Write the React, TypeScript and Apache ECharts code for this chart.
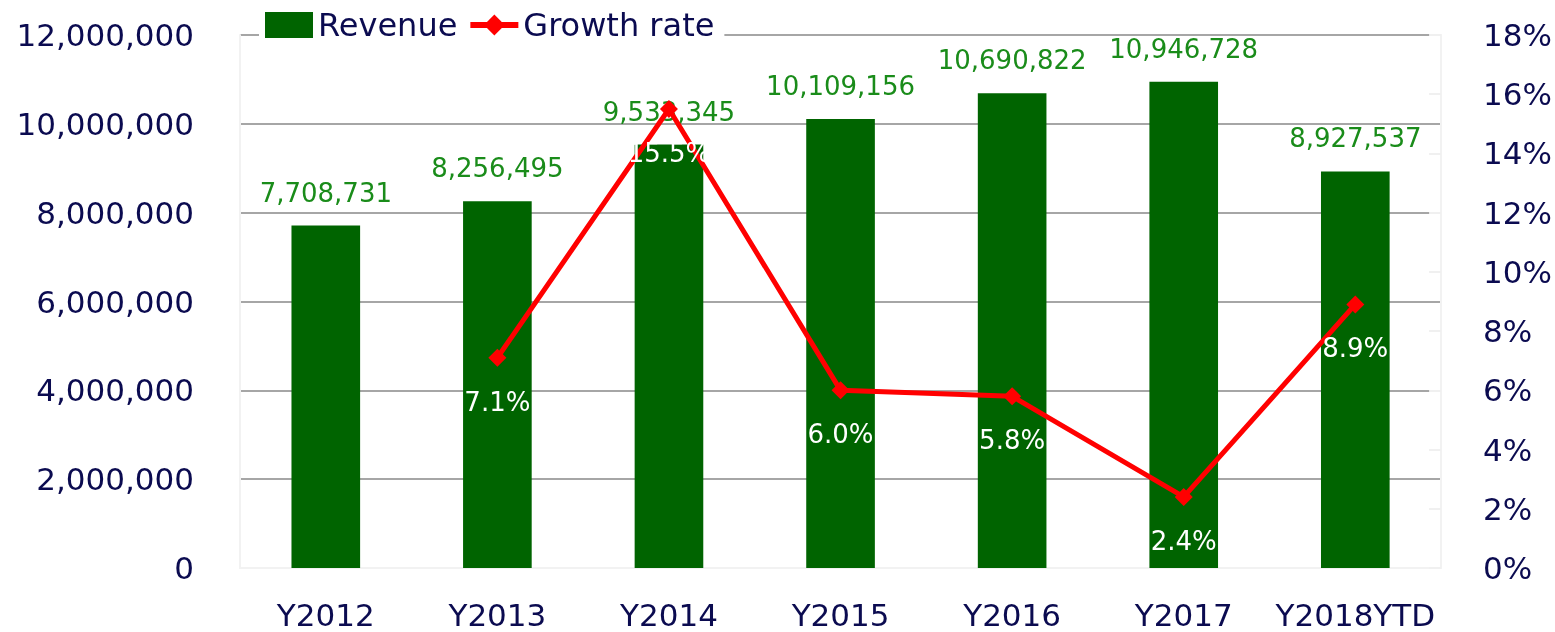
import React, { useEffect, useRef } from "react";
import * as echarts from "echarts";

const categories = ["Y2012", "Y2013", "Y2014", "Y2015", "Y2016", "Y2017", "Y2018YTD"];
const revenue = [7708731, 8256495, 9533345, 10109156, 10690822, 10946728, 8927537];
const growth: (number | null)[] = [null, 7.1, 15.5, 6.0, 5.8, 2.4, 8.9];

const FONT = "DejaVu Sans";
const NAVY = "#0b0b50";

export default function App() {
  const ref = useRef<HTMLDivElement>(null);
  useEffect(() => {
    if (!ref.current) return;
    const chart = echarts.init(ref.current, null, { renderer: "svg" });
    chart.setOption({
      animation: false,
      textStyle: { fontFamily: FONT },
      legend: {
        left: 259,
        top: 5,
        itemWidth: 48,
        itemHeight: 26,
        itemGap: 10,
        backgroundColor: "#ffffff",
        padding: [4, 10, 4, 6],
        textStyle: { fontFamily: FONT, fontSize: 32, color: NAVY, padding: [0, 0, 0, 0] },
        data: [
          { name: "Revenue", icon: "rect" },
          { name: "Growth rate", lineStyle: { width: 6, color: "#ff0000" } },
        ],
      },
      grid: { left: 240, right: 108, top: 35, bottom: 64, containLabel: false },
      xAxis: {
        type: "category",
        data: categories,
        axisLine: { show: true, lineStyle: { color: "#f2f2f2", width: 2 } },
        axisTick: { show: true, inside: true, alignWithLabel: true, length: 8, lineStyle: { color: "#d8d8d8", width: 2 } },
        axisLabel: { fontFamily: FONT, fontSize: 31, color: NAVY, margin: 31, interval: 0 },
      },
      yAxis: [
        {
          type: "value",
          min: 0,
          max: 12000000,
          interval: 2000000,
          axisLine: { show: true, lineStyle: { color: "#f2f2f2", width: 2 } },
          axisTick: { show: false },
          splitLine: { show: true, lineStyle: { color: "#a6a6a6", width: 2 } },
          axisLabel: {
            fontFamily: FONT,
            fontSize: 31,
            color: NAVY,
            margin: 46,
            formatter: (v: number) => v.toLocaleString("en-US"),
          },
        },
        {
          type: "value",
          min: 0,
          max: 18,
          interval: 2,
          position: "right",
          axisLine: { show: true, lineStyle: { color: "#f2f2f2", width: 2 } },
          axisTick: { show: true, inside: true, length: 12, lineStyle: { color: "#f0f0f0", width: 2 } },
          splitLine: { show: false },
          axisLabel: { fontFamily: FONT, fontSize: 31, color: NAVY, margin: 42, formatter: "{value}%" },
        },
      ],
      series: [
        {
          name: "Revenue",
          type: "bar",
          data: revenue,
          barWidth: "40%",
          itemStyle: { color: "#006400" },
          label: {
            show: true,
            position: "top",
            distance: 20,
            fontFamily: FONT,
            fontSize: 26,
            color: "#1a8c1a",
            formatter: (p: any) => Number(p.value).toLocaleString("en-US"),
          },
        },
        {
          name: "Growth rate",
          type: "line",
          yAxisIndex: 1,
          data: growth,
          connectNulls: false,
          lineStyle: { color: "#ff0000", width: 5 },
          itemStyle: { color: "#ff0000" },
          symbol: "diamond",
          symbolSize: 18,
          label: {
            show: true,
            position: "bottom",
            distance: 22,
            fontFamily: FONT,
            fontSize: 26,
            color: "#ffffff",
            formatter: (p: any) => (p.value == null ? "" : Number(p.value).toFixed(1) + "%"),
          },
        },
      ],
    });
    return () => chart.dispose();
  }, []);
  return <div ref={ref} style={{ position: "fixed", left: 0, top: 0, width: 1555, height: 632 }} />;
}
